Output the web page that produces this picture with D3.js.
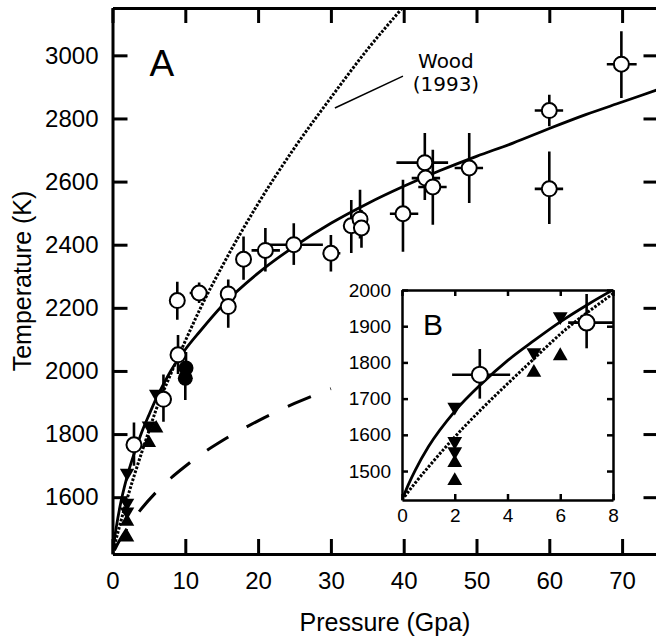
<!DOCTYPE html>
<html>
<head>
<meta charset="utf-8">
<script src="https://cdn.jsdelivr.net/npm/d3@7"></script>
<style>
body { margin: 0; background: #fff; }
svg { display: block; }
text { font-family: "Liberation Sans", Arial, sans-serif; fill: #000; }
</style>
</head>
<body>
<svg width="656" height="644"></svg>
<script>
// tick values
var xTicks = [0, 10, 20, 30, 40, 50, 60, 70];
var yTicks = [1600, 1800, 2000, 2200, 2400, 2600, 2800, 3000];
var insetXTicks = [0, 2, 4, 6, 8];
var insetYTicks = [1500, 1600, 1700, 1800, 1900, 2000];

// fitted melting curve (solid)
var solidP = [0, 0.25, 0.5, 1, 2, 3, 4, 5, 6, 7, 8, 10, 12, 15, 20, 25, 30, 35, 40, 45, 50, 55, 60, 65, 70, 75];
var solidT = [1420, 1464, 1502, 1567, 1665, 1740, 1805, 1860, 1912, 1958, 2000, 2068, 2125, 2205, 2310, 2395, 2468, 2530, 2585, 2635, 2680, 2722, 2768, 2812, 2852, 2892];

// Wood (1993), dotted
var woodP = [0, 0.5, 1, 2, 3, 4, 5, 6, 8, 10, 12, 15, 20, 25, 30, 35, 40, 41];
var woodT = [1420, 1467, 1511, 1594, 1670, 1741, 1810, 1878, 1990, 2095, 2195, 2329, 2530, 2707, 2866, 3018, 3155, 3182];

// dashed curve
var dashP = [0, 1, 2, 3, 4, 6, 8, 10, 12, 15, 20, 25, 30];
var dashT = [1420, 1464, 1501, 1534, 1564, 1616, 1660, 1698, 1733, 1778, 1842, 1897, 1944];

// open circles with error bars
var openP   = [2.95, 7.0, 9.0, 8.9, 11.9, 15.9, 15.9, 18.0, 21.0, 24.9, 30.0, 32.8, 34.0, 34.2, 39.9, 42.9, 43.0, 44.0, 49.0, 60.0, 60.0, 69.9];
var openT   = [1766, 1910, 2051, 2223, 2247, 2244, 2204, 2354, 2382, 2400, 2373, 2460, 2481, 2453, 2498, 2660, 2611, 2583, 2643, 2825, 2577, 2972];
var openPlo = [1.9, 6.3, 9.0, 8.9, 10.6, 15.9, 15.9, 18.0, 19.1, 21.6, 28.9, 32.8, 34.0, 34.2, 38.1, 39.0, 41.1, 42.0, 47.0, 58.0, 58.0, 67.9];
var openPhi = [4.1, 8.1, 9.0, 8.9, 13.1, 15.9, 15.9, 18.0, 23.0, 28.9, 31.3, 32.8, 34.0, 34.2, 42.0, 46.1, 45.0, 45.9, 50.9, 61.9, 61.9, 72.0];
var openTlo = [1700, 1839, 1990, 2162, 2215, 2200, 2137, 2289, 2315, 2336, 2315, 2374, 2420, 2390, 2378, 2542, 2580, 2463, 2532, 2775, 2466, 2865];
var openThi = [1837, 1989, 2114, 2283, 2280, 2290, 2210, 2426, 2453, 2468, 2431, 2542, 2574, 2510, 2606, 2754, 2640, 2701, 2754, 2875, 2695, 3076];

// filled circles
var fillP   = [10.1, 10.0];
var fillT   = [2009, 1977];
var fillTlo = [1960, 1908];
var fillThi = [2060, 2030];

// filled triangles
var downP = [2, 2, 2, 5, 6];
var downT = [1677, 1582, 1554, 1827, 1927];
var upP   = [2, 2, 5, 6];
var upT   = [1523, 1473, 1772, 1818];

var svg = d3.select("svg");

function zip2(a, b) { return a.map(function(d, i) { return [d, b[i]]; }); }

var openData = openP.map(function(d, i) {
    return { p: d, t: openT[i], plo: openPlo[i], phi: openPhi[i], tlo: openTlo[i], thi: openThi[i] };
});
var fillData = fillP.map(function(d, i) {
    return { p: d, t: fillT[i], plo: d, phi: d, tlo: fillTlo[i], thi: fillThi[i] };
});
var downData = zip2(downP, downT);
var upData = zip2(upP, upT);

function drawPanel(g, x, y, o) {
    var x0 = x.range()[0], x1 = x.range()[1], y0 = y.range()[0], y1 = y.range()[1];

    g.append("rect").attr("x", x0).attr("y", y1).attr("width", x1 - x0).attr("height", y0 - y1)
        .attr("fill", "#fff");

    g.append("clipPath").attr("id", o.id)
        .append("rect").attr("x", x0).attr("y", y1).attr("width", x1 - x0).attr("height", y0 - y1);

    var body = g.append("g").attr("clip-path", "url(#" + o.id + ")");
    var line = d3.line().curve(d3.curveMonotoneX)
        .x(function(d) { return x(d[0]); })
        .y(function(d) { return y(d[1]); });

    if (o.dashed) {
        body.append("path").datum(zip2(dashP, dashT)).attr("d", line)
            .attr("fill", "none").attr("stroke", "#000").attr("stroke-width", 3)
            .attr("stroke-dasharray", "25,21").attr("stroke-dashoffset", -4);
    }
    body.append("path").datum(zip2(woodP, woodT)).attr("d", line)
        .attr("fill", "none").attr("stroke", "#000").attr("stroke-width", 3)
        .attr("stroke-dasharray", "2.6,1.6");
    body.append("path").datum(zip2(solidP, solidT)).attr("d", line)
        .attr("fill", "none").attr("stroke", "#000").attr("stroke-width", 2.8);

    var pts = openData.filter(function(d) { return d.p <= x.domain()[1]; });
    var fpts = o.filled ? fillData : [];
    var bars = pts.concat(fpts);

    body.selectAll(".vbar").data(bars).enter().append("line")
        .attr("x1", function(d) { return x(d.p); }).attr("x2", function(d) { return x(d.p); })
        .attr("y1", function(d) { return y(d.tlo); }).attr("y2", function(d) { return y(d.thi); })
        .attr("stroke", "#000").attr("stroke-width", 2.6);
    body.selectAll(".hbar").data(bars).enter().append("line")
        .attr("x1", function(d) { return x(d.plo); }).attr("x2", function(d) { return x(d.phi); })
        .attr("y1", function(d) { return y(d.t); }).attr("y2", function(d) { return y(d.t); })
        .attr("stroke", "#000").attr("stroke-width", 2.6);

    var tri = d3.symbol().type(d3.symbolTriangle).size(o.triSize);
    body.selectAll(".up").data(upData).enter().append("path")
        .attr("d", tri)
        .attr("transform", function(d) { return "translate(" + x(d[0]) + "," + y(d[1]) + ")"; })
        .attr("fill", "#000");
    body.selectAll(".down").data(downData).enter().append("path")
        .attr("d", tri)
        .attr("transform", function(d) { return "translate(" + x(d[0]) + "," + y(d[1]) + ") rotate(180)"; })
        .attr("fill", "#000");

    body.selectAll(".fc").data(fpts).enter().append("circle")
        .attr("cx", function(d) { return x(d.p); }).attr("cy", function(d) { return y(d.t); })
        .attr("r", o.r).attr("fill", "#000");
    body.selectAll(".oc").data(pts).enter().append("circle")
        .attr("cx", function(d) { return x(d.p); }).attr("cy", function(d) { return y(d.t); })
        .attr("r", o.r).attr("fill", "#fff").attr("stroke", "#000").attr("stroke-width", 2);

    // axes, ticks pointing inward
    var fmt = d3.format("d");
    var ax = [
        d3.axisBottom(x).tickValues(o.xt).tickSizeInner(-o.tick).tickSizeOuter(0).tickPadding(o.padX).tickFormat(fmt),
        d3.axisLeft(y).tickValues(o.yt).tickSizeInner(-o.tick).tickSizeOuter(0).tickPadding(o.padY).tickFormat(fmt),
        d3.axisTop(x).tickValues(o.xt).tickSizeInner(-o.tick).tickSizeOuter(0).tickFormat(""),
        d3.axisRight(y).tickValues(o.yt).tickSizeInner(-o.tick).tickSizeOuter(0).tickFormat("")
    ];
    var pos = ["translate(0," + y0 + ")", "translate(" + x0 + ",0)", "translate(0," + y1 + ")", "translate(" + x1 + ",0)"];
    ax.forEach(function(a, i) {
        var ag = g.append("g").attr("transform", pos[i]).call(a);
        ag.selectAll("path, line").attr("stroke", "#000").attr("stroke-width", o.sw);
        ag.selectAll("text").attr("font-size", o.fs).attr("font-family", null).attr("fill", "#000");
    });

    g.append("text").attr("x", x0 + o.letterDx).attr("y", y1 + o.letterDy)
        .attr("font-size", o.letterFs).text(o.letter);
}

// main panel
var x = d3.scaleLinear().domain([0, 75]).range([112.5, 658.5]);
var y = d3.scaleLinear().domain([1420, 3150]).range([554, 8]);

var main = svg.append("g");
drawPanel(main, x, y, {
    id: "clipA", dashed: true, filled: true, r: 7.5, triSize: 90,
    xt: xTicks, yt: yTicks, tick: 15, padX: 18, padY: 14, sw: 3, fs: 24,
    letter: "A", letterFs: 37, letterDx: 37, letterDy: 68
});

// Wood (1993) label and leader
main.append("line")
    .attr("x1", x(30.55)).attr("y1", y(2833))
    .attr("x2", x(39.9)).attr("y2", y(2934))
    .attr("stroke", "#000").attr("stroke-width", 1.5);
main.append("text").attr("x", x(45.8)).attr("y", y(2960)).attr("text-anchor", "middle")
    .style("font-family", "'DejaVu Sans', Verdana, sans-serif").attr("font-size", 20).text("Wood");
main.append("text").attr("x", x(45.8)).attr("y", y(2888)).attr("text-anchor", "middle")
    .style("font-family", "'DejaVu Sans', Verdana, sans-serif").attr("font-size", 20).text("(1993)");

// axis titles
svg.append("text").attr("x", 385).attr("y", 631).attr("text-anchor", "middle")
    .attr("font-size", 25).text("Pressure (Gpa)");
svg.append("text").attr("transform", "translate(31,281) rotate(-90)").attr("text-anchor", "middle")
    .attr("font-size", 25).text("Temperature (K)");

// inset B
var xi = d3.scaleLinear().domain([0, 8]).range([402, 613]);
var yi = d3.scaleLinear().domain([1420, 2000]).range([500, 290]);
drawPanel(svg.append("g"), xi, yi, {
    id: "clipB", dashed: false, filled: false, r: 8, triSize: 95,
    xt: insetXTicks, yt: insetYTicks, tick: 6, padX: 9, padY: 11, sw: 2.5, fs: 19,
    letter: "B", letterFs: 30, letterDx: 21, letterDy: 45
});
</script>
</body>
</html>
